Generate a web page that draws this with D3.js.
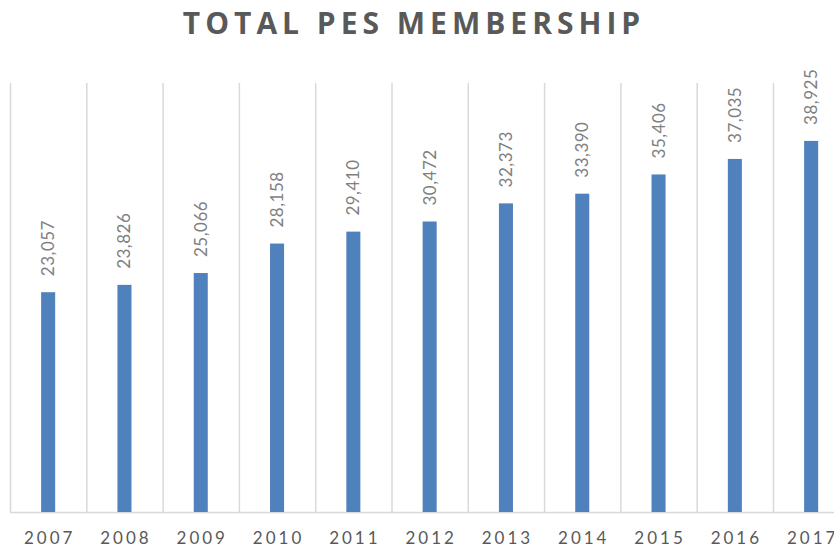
<!DOCTYPE html>
<html>
<head>
<meta charset="utf-8">
<script src="https://cdn.jsdelivr.net/npm/d3@7"></script>
<style>
  body { margin: 0; background: #fff; }
  svg { display: block; font-family: Lato, "Open Sans", sans-serif; }
</style>
</head>
<body>
<svg id="chart" width="834" height="549"></svg>
<script>
const years = ["2007", "2008", "2009", "2010", "2011", "2012", "2013", "2014", "2015", "2016", "2017"];
const members = [23057, 23826, 25066, 28158, 29410, 30472, 32373, 33390, 35406, 37035, 38925];
const yMax = 45000;

const margin = { top: 83, left: 10, bottom: 37 },
      bandW = 76.3,
      width = bandW * years.length,
      height = 549 - margin.top - margin.bottom;

const svg = d3.select("#chart");

svg.append("text")
    .attr("x", 414)
    .attr("y", 34)
    .attr("text-anchor", "middle")
    .style("font-family", "'Open Sans', sans-serif")
    .style("font-size", "30px")
    .style("font-weight", "bold")
    .style("letter-spacing", "5px")
    .style("fill", "#595959")
    .text("TOTAL PES MEMBERSHIP");

const g = svg.append("g")
    .attr("transform", `translate(${margin.left},${margin.top})`);

const x = d3.scaleBand()
    .domain(years)
    .range([0, width])
    .paddingInner(0.816)
    .paddingOuter(0.408);

const y = d3.scaleLinear()
    .domain([0, yMax])
    .range([height, 0]);

// vertical gridlines at category boundaries
const bounds = d3.range(years.length + 1).map(i => i * bandW);
g.selectAll(".grid")
    .data(bounds)
    .enter()
    .append("line")
    .attr("x1", d => d + 0.5)
    .attr("x2", d => d + 0.5)
    .attr("y1", 0)
    .attr("y2", height)
    .attr("stroke", "#d9d9d9")
    .attr("stroke-width", 1.5);

g.append("line")
    .attr("x1", 0)
    .attr("x2", width)
    .attr("y1", height + 0.5)
    .attr("y2", height + 0.5)
    .attr("stroke", "#d9d9d9")
    .attr("stroke-width", 1.5);

g.selectAll(".bar")
    .data(members)
    .enter()
    .append("rect")
    .attr("class", "bar")
    .attr("x", (d, i) => x(years[i]))
    .attr("y", d => y(d))
    .attr("width", x.bandwidth())
    .attr("height", d => height - y(d))
    .attr("fill", "#4f81bd");

g.selectAll(".val")
    .data(members)
    .enter()
    .append("text")
    .attr("transform", (d, i) => `translate(${x(years[i]) + x.bandwidth() / 2 + 6},${y(d) - 16}) rotate(-90)`)
    .style("font-size", "17px")
    .style("letter-spacing", "0.5px")
    .style("fill", "#7f7f7f")
    .text(d => d3.format(",")(d));

const xAxis = g.append("g")
    .attr("transform", `translate(0,${height})`)
    .call(d3.axisBottom(x).tickSize(0).tickPadding(20));
xAxis.select(".domain").remove();
xAxis.selectAll("text")
    .attr("dx", "1.5px")
    .style("font-family", "Lato, sans-serif")
    .style("font-size", "17px")
    .style("letter-spacing", "3px")
    .style("fill", "#595959");
</script>
</body>
</html>
